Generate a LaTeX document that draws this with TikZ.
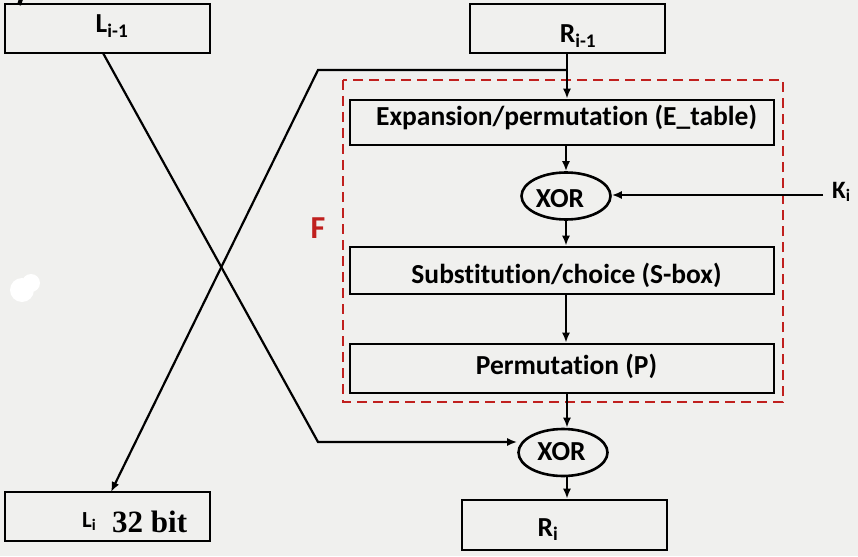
\documentclass[tikz,border=0pt]{standalone}
\usepackage{fontspec}
\setmainfont{Carlito}[Ligatures=NoCommon]
\newfontfamily\serifbf{Liberation Serif}
\usetikzlibrary{arrows.meta,calc,shapes.geometric}
\definecolor{bgc}{HTML}{F0F0EE}
\definecolor{fred}{HTML}{C0201E}
\begin{document}
\begin{tikzpicture}[x=1pt,y=-1pt,
  box/.style={draw=black, line width=2.6pt, rectangle, inner sep=0pt},
  oval/.style={draw=black, line width=2.6pt, ellipse, inner sep=0pt, minimum width=89, minimum height=47},
  lbl/.style={font=\bfseries\fontsize{27.5}{29}\selectfont, inner sep=0pt, anchor=base},
  smalllbl/.style={font=\bfseries\fontsize{23}{25}\selectfont, inner sep=0pt},
  conn/.style={draw=black, line width=2.2pt},
  arr/.style={conn, -{Latex[length=10pt,width=8pt]}}]
\fill[bgc] (0,0) rectangle (858,556);
\useasboundingbox (0,0) rectangle (858,556);
% artifacts
\draw[line width=4pt] (21,-1) -- (19,5);
\fill[white] (22,290) circle (12);
\fill[white] (31,283) circle (9);
% boxes
\node[box, minimum width=205, minimum height=49] (li1) at (107.5,28.5) {};
\node[lbl] (li1t) at (112,33) {L\textsubscript{i-1}};
\node[box, minimum width=195, minimum height=49] (ri1) at (567.5,28.5) {};
\node[lbl] (ri1t) at (578,43) {R\textsubscript{i-1}};
\node[box, minimum width=424, minimum height=45] (exp) at (562,122.5) {};
\node[lbl] (expt) at (566.5,126) {Expansion/permutation (E\_table)};
\node[oval] (xor1) at (566,196) {};
\node[lbl] (xor1t) at (560,207) {XOR};
\node[box, minimum width=424, minimum height=47] (sub) at (562,270.5) {};
\node[lbl] (subt) at (566.5,283) {Substitution/choice (S-box)};
\node[box, minimum width=424, minimum height=49] (perm) at (562,368.5) {};
\node[lbl] (permt) at (566.5,374) {Permutation (P)};
\node[oval] (xor2) at (563,452.5) {};
\node[lbl] (xor2t) at (561.5,460) {XOR};
\node[box, minimum width=205, minimum height=50] (ri) at (564.5,525) {};
\node[lbl] (rit) at (548,536) {R\textsubscript{i}};
\node[box, minimum width=205, minimum height=49] (li) at (107.5,516.5) {};
\node[smalllbl, anchor=base west] (lit) at (82,527) {L\textsubscript{i}};
\node[inner sep=0pt, anchor=base west, font=\serifbf\bfseries\fontsize{31}{33}\selectfont] (bitt) at (112,532) {32 bit};
\node[smalllbl, font=\bfseries\fontsize{25}{27}\selectfont, anchor=base west] (ki) at (832,198) {K\textsubscript{i}};
\node[text=fred, font=\bfseries\fontsize{32}{34}\selectfont, inner sep=0pt, anchor=base] (f) at (318,238) {F};
% F box
\draw[fred, line width=2.4pt, dash pattern=on 10pt off 6pt] (343,80) rectangle (783,402);
% connectors
\coordinate (c1) at (567,70);
\coordinate (c2) at (318,70);
\coordinate (c3) at (111,492);
\coordinate (d1) at (103,53);
\coordinate (d2) at (318,442);
\coordinate (k1) at (823,195);
\draw[conn] (ri1.south -| c1) -- (c1);
\draw[arr] (c1) -- (exp.north -| c1);
\draw[arr] (c1) -- (c2) -- (c3);
\draw[arr] (d1) -- (d2) -- (d2 -| xor2.west);
\draw[arr] (exp.south -| xor1.north) -- (xor1.north);
\draw[arr] (k1) -- (k1 -| xor1.east);
\draw[arr] (xor1.south) -- (sub.north -| xor1.south);
\draw[arr] (sub.south -| xor1.south) -- (perm.north -| xor1.south);
\draw[arr] (perm.south -| c1) -- (xor2.north -| c1);
\draw[arr] (xor2.south -| c1) -- (ri.north -| c1);
\end{tikzpicture}
\end{document}
